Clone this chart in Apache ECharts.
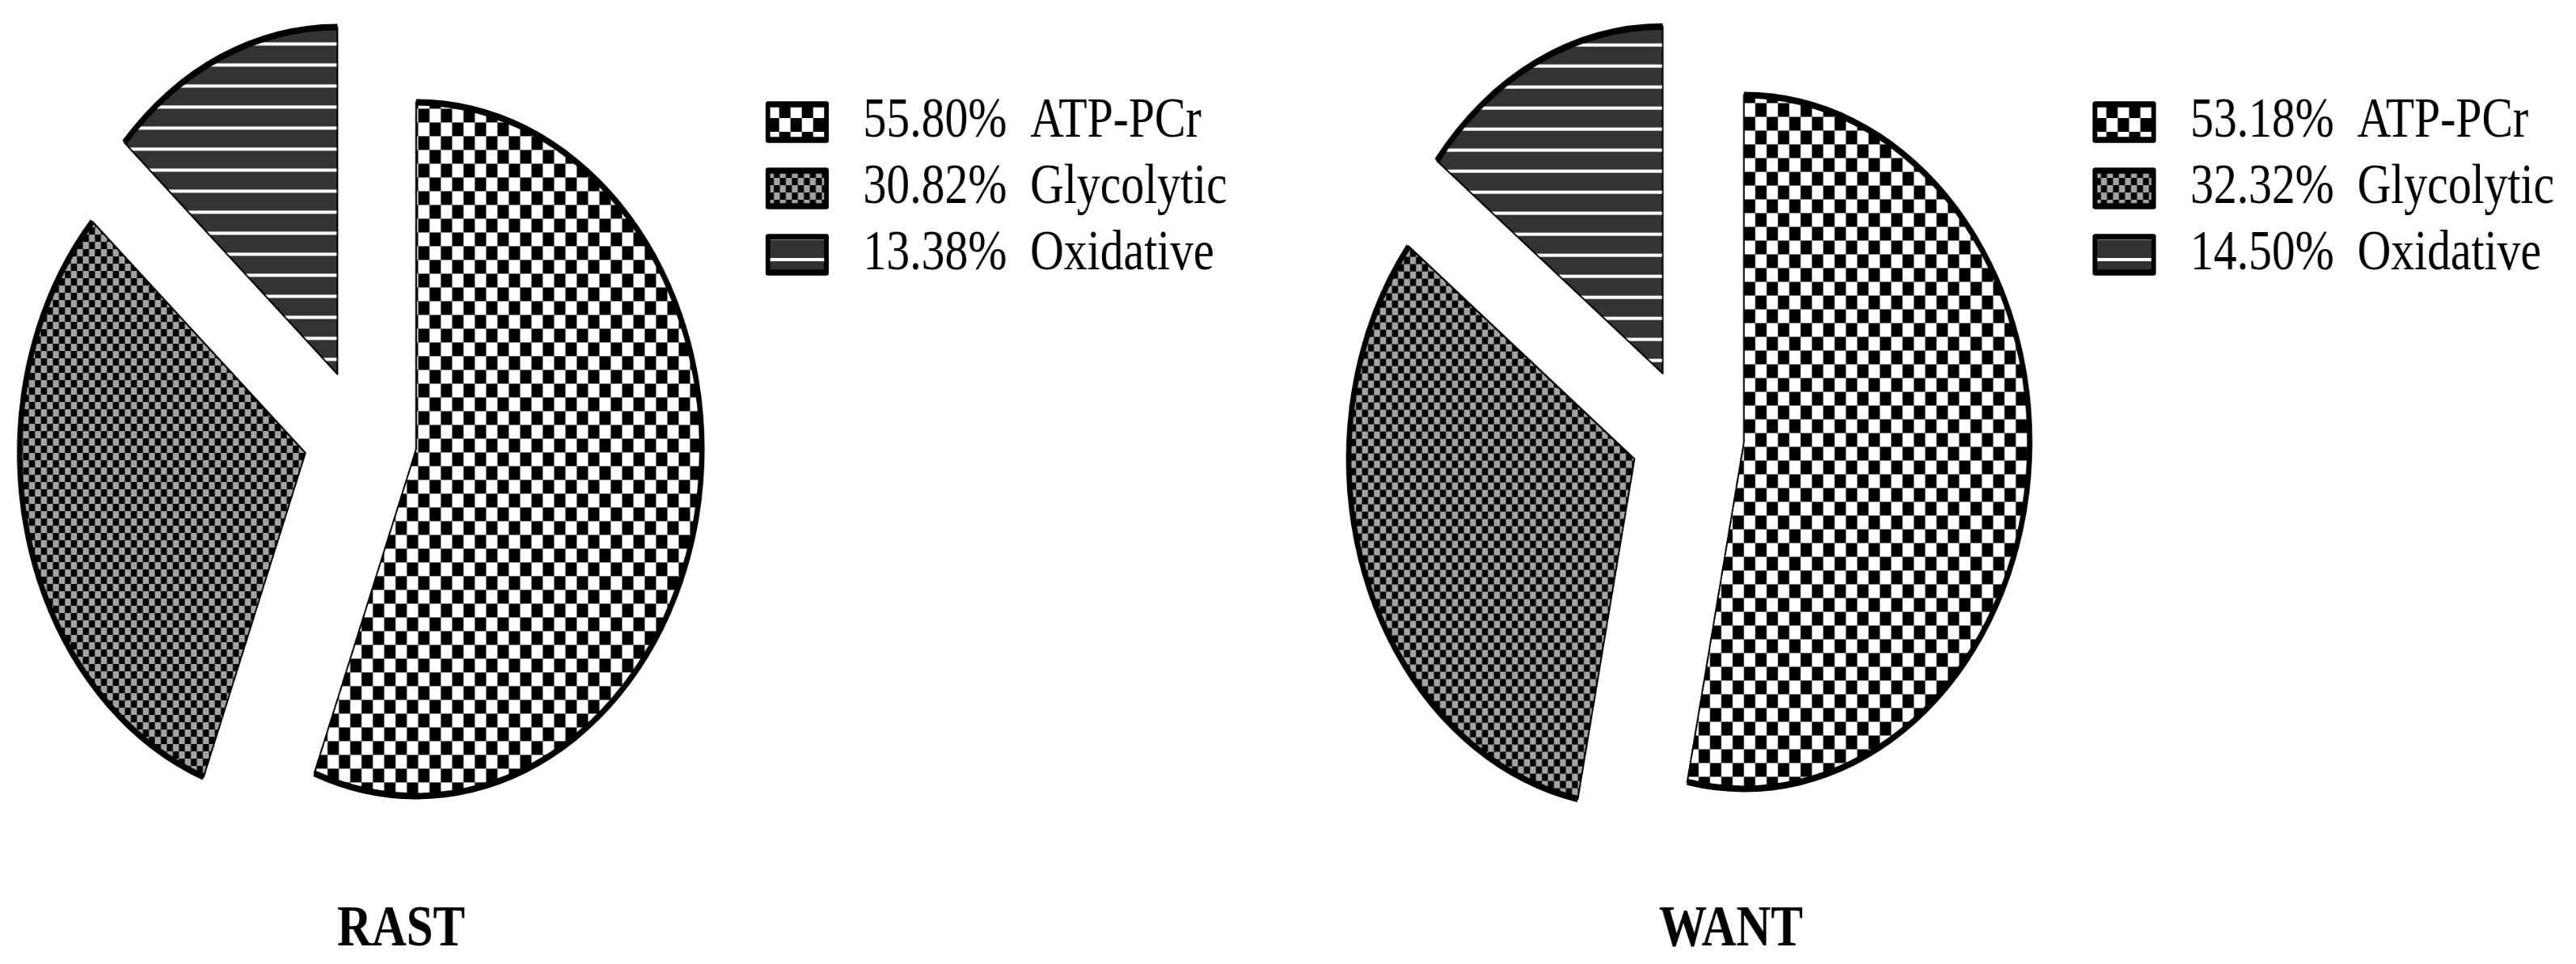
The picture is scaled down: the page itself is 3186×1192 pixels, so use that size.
<!DOCTYPE html>
<html>
<head>
<meta charset="utf-8">
<script src="https://cdn.jsdelivr.net/npm/echarts@6/dist/echarts.min.js"></script>
<style>
html,body{margin:0;padding:0;background:#fff;overflow:hidden;width:3186px;height:1192px}
#wrap{width:3186px;height:1192px;overflow:hidden}
#chart{width:3867px;height:1192px;transform:scaleX(0.824);transform-origin:0 0}
</style>
</head>
<body>
<div id="wrap"><div id="chart"></div></div>
<script>
// ---- data ----
const categories = ['ATP-PCr', 'Glycolytic', 'Oxidative'];
const rastValues = [55.80, 30.82, 13.38];
const wantValues = [53.18, 32.32, 14.50];
const groupTitles = ['RAST', 'WANT'];

// ---- styles ----
const FONT = 'Liberation Serif, Times New Roman, serif';
const R = 429;
const patterns = [
  { color: '#ffffff', decal: { symbol: 'rect', symbolSize: 1, symbolKeepAspect: false, color: '#000000',
      dashArrayX: [[17, 17], [0, 17, 17, 0]], dashArrayY: [17, 0] } },
  { color: '#a3a3a3', decal: { symbol: 'rect', symbolSize: 1, symbolKeepAspect: false, color: '#000000',
      dashArrayX: [[9, 9], [0, 9, 9, 0]], dashArrayY: [9, 0] } },
  { color: '#333333', decal: { symbol: 'rect', symbolSize: 1, symbolKeepAspect: false, color: '#ffffff',
      dashArrayX: [1, 0], dashArrayY: [4, 22] } }
];
const groups = [
  { values: rastValues, center: [541, 540], legendLeft: 1144, titleLeft: 501 },
  { values: wantValues, center: [2533, 538], legendLeft: 3136, titleLeft: 2485 }
];

function pieSeries(values, center, ring) {
  return {
    type: 'pie',
    center: center,
    radius: ring ? [R - 4, R + 4] : [0, R],
    startAngle: 90,
    clockwise: true,
    selectedMode: 'multiple',
    selectedOffset: 85,
    animation: false,
    avoidLabelOverlap: false,
    label: { show: false },
    labelLine: { show: false },
    emphasis: { disabled: true },
    select: { itemStyle: ring ? { borderWidth: 0 } : { borderColor: '#000', borderWidth: 2 } },
    data: values.map((v, i) => ({
      name: categories[i],
      value: v,
      selected: true,
      itemStyle: ring
        ? { color: '#000', borderWidth: 0 }
        : { color: patterns[i].color, decal: patterns[i].decal, borderColor: '#000', borderWidth: 2 }
    }))
  };
}

const series = [];
groups.forEach(g => series.push(pieSeries(g.values, g.center, false)));
groups.forEach(g => series.push(pieSeries(g.values, g.center, true)));

const option = {
  backgroundColor: '#ffffff',
  animation: false,
  title: groups.map((g, i) => ({
    text: groupTitles[i],
    left: g.titleLeft,
    top: 1109,
    textStyle: { fontFamily: FONT, fontWeight: 'bold', fontSize: 72, color: '#000' }
  })),
  legend: groups.map(g => ({
    orient: 'vertical',
    left: g.legendLeft,
    top: 111,
    data: categories,
    icon: 'rect',
    itemWidth: 88,
    itemHeight: 44,
    itemGap: 12,
    selectedMode: false,
    itemStyle: { borderColor: '#000', borderWidth: 7 },
    textStyle: { fontFamily: FONT, fontSize: 70, color: '#000', lineHeight: 70, padding: [0, 0, 0, 50] },
    formatter: name => g.values[categories.indexOf(name)].toFixed(2) + '%  ' + name
  })),
  series: series
};

const chart = echarts.init(document.getElementById('chart'), null, { renderer: 'canvas' });
chart.setOption(option);
</script>
</body>
</html>
